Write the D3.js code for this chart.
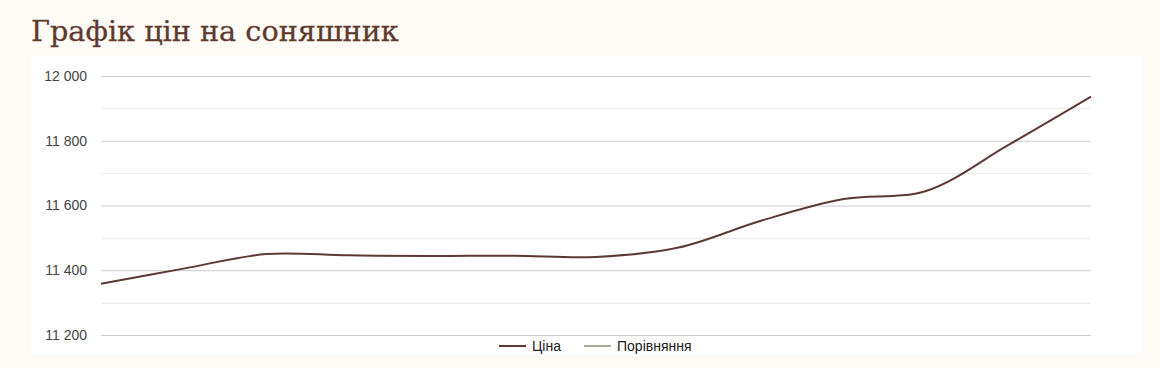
<!DOCTYPE html>
<html>
<head>
    <meta charset="utf-8">
    <script src="https://d3js.org/d3.v7.min.js"></script>
    <style>
        body { margin: 0; background: #fffbf7; }
        text { font-family: Arial, "Liberation Sans", sans-serif; }
    </style>
</head>
<body>
    <div id="chart"></div>
    <script>
        // точки графіка (без підписів по осі X)
        var points = [1, 2, 3, 4, 5, 6, 7, 8, 9, 10, 11, 12, 13];
        var price = [11358, 11405, 11450, 11446, 11444, 11445, 11441, 11470, 11553, 11620, 11645, 11787, 11936];
        var yTicks = [11200, 11400, 11600, 11800, 12000];
        var series = ["Ціна", "Порівняння"];
        var seriesColors = ["#5b3a35", "#a9ab96"];

        var width = 1161, height = 369;

        var svg = d3.select("#chart")
            .append("svg")
            .attr("width", width)
            .attr("height", height);

        svg.append("text")
            .attr("x", 31)
            .attr("y", 41)
            .style("font-family", "'DejaVu Serif', serif")
            .style("font-size", "28.7px")
            .style("fill", "#5e3a2c")
            .style("stroke", "#5e3a2c")
            .style("stroke-width", 0.3)
            .text("Графік цін на соняшник");

        // біла панель
        svg.append("rect")
            .attr("x", 31)
            .attr("y", 56)
            .attr("width", 1110)
            .attr("height", 299)
            .style("fill", "#fff");

        var x = d3.scaleLinear()
            .domain(d3.extent(points))
            .range([101, 1091]);

        var y = d3.scaleLinear()
            .domain([11200, 12000])
            .range([335, 76]);

        // проміжні лінії
        var minor = d3.range(0, yTicks.length - 1).map(function (i) {
            return (yTicks[i] + yTicks[i + 1]) / 2;
        });
        svg.selectAll(".minor")
            .data(minor)
            .enter()
            .append("line")
            .attr("x1", x.range()[0])
            .attr("x2", x.range()[1])
            .attr("y1", function (d) { return Math.round(y(d)) + 0.5; })
            .attr("y2", function (d) { return Math.round(y(d)) + 0.5; })
            .style("stroke", "#ebebeb");

        var yAxis = svg.append("g")
            .call(d3.axisLeft(y)
                .tickValues(yTicks)
                .tickSize(-(x.range()[1] - x.range()[0]))
                .tickPadding(14)
                .tickFormat(function (d) { return d3.format(",")(d).replace(",", " "); }))
            .attr("transform", "translate(" + x.range()[0] + ",0)");
        yAxis.select(".domain").remove();
        yAxis.selectAll(".tick line").style("stroke", "#cccccc");
        yAxis.selectAll(".tick text")
            .style("font-size", "14px")
            .style("fill", "#444");

        var line = d3.line()
            .x(function (d, i) { return x(points[i]); })
            .y(function (d) { return y(d); })
            .curve(d3.curveCatmullRom.alpha(0.5));

        svg.append("path")
            .datum(price)
            .attr("d", line)
            .style("fill", "none")
            .style("stroke", seriesColors[0])
            .style("stroke-width", 2);

        // легенда
        var legendX = [499, 584];
        var legend = svg.selectAll(".legend")
            .data(series)
            .enter()
            .append("g")
            .attr("transform", function (d, i) { return "translate(" + legendX[i] + ",346)"; });
        legend.append("line")
            .attr("x1", 0)
            .attr("x2", 27)
            .style("stroke", function (d, i) { return seriesColors[i]; })
            .style("stroke-width", 2);
        legend.append("text")
            .attr("x", 33)
            .attr("dy", "0.35em")
            .style("font-size", "14px")
            .style("fill", "#222")
            .text(function (d) { return d; });
    </script>
</body>
</html>
